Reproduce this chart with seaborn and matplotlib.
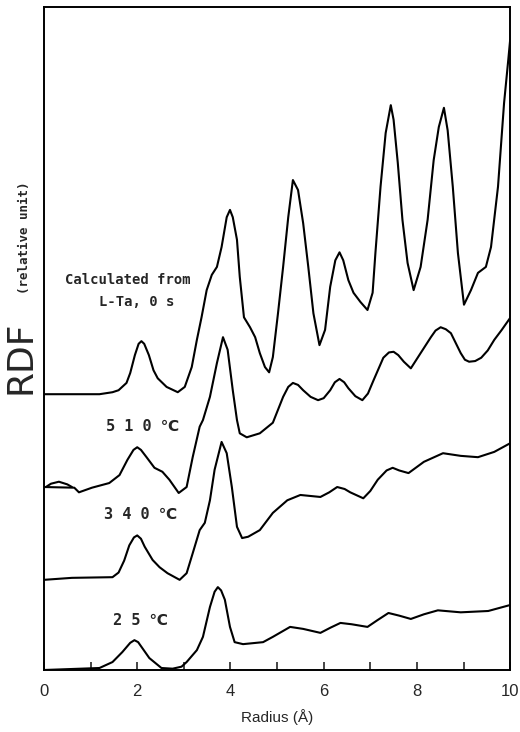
import matplotlib
matplotlib.use("Agg")
import matplotlib.pyplot as plt
import seaborn as sns
import pandas as pd
from matplotlib.ticker import MultipleLocator

sns.set_theme(style="ticks")
plt.rcParams['font.family'] = ['DejaVu Sans']

# ---- data (radius in Å, RDF in relative units, curves stacked with offsets) ----
calc_x = [0.0, 1.19, 1.47, 1.60, 1.77, 1.85, 1.95, 2.03, 2.09, 2.15, 2.25, 2.35, 2.44, 2.63,
          2.87, 3.02, 3.17, 3.28, 3.38, 3.49, 3.60, 3.71, 3.81, 3.92, 3.99, 4.05, 4.14, 4.20,
          4.29, 4.42, 4.53, 4.63, 4.74, 4.83, 4.91, 5.02, 5.13, 5.24, 5.34, 5.45, 5.56, 5.67,
          5.78, 5.91, 6.03, 6.14, 6.25, 6.34, 6.42, 6.53, 6.64, 6.79, 6.94, 7.05, 7.11, 7.22,
          7.33, 7.44, 7.50, 7.59, 7.69, 7.80, 7.93, 8.08, 8.23, 8.36, 8.47, 8.58, 8.66, 8.77,
          8.88, 9.01, 9.16, 9.31, 9.48, 9.59, 9.74, 9.87, 9.96, 10.0]
calc_y = [4.16, 4.16, 4.19, 4.22, 4.33, 4.48, 4.75, 4.92, 4.96, 4.92, 4.75, 4.52, 4.40, 4.27,
          4.19, 4.27, 4.57, 4.98, 5.32, 5.73, 5.96, 6.08, 6.38, 6.83, 6.94, 6.83, 6.49, 5.93,
          5.32, 5.17, 5.02, 4.78, 4.57, 4.49, 4.72, 5.38, 6.08, 6.83, 7.39, 7.24, 6.74, 6.08,
          5.38, 4.90, 5.13, 5.78, 6.18, 6.30, 6.18, 5.88, 5.69, 5.55, 5.43, 5.69, 6.29, 7.29,
          8.10, 8.52, 8.30, 7.65, 6.79, 6.14, 5.73, 6.08, 6.79, 7.69, 8.19, 8.48, 8.14, 7.29,
          6.29, 5.51, 5.73, 5.99, 6.08, 6.38, 7.29, 8.55, 9.20, 9.50]

t510_x = [0.0, 0.65, 0.75, 1.03, 1.40, 1.62, 1.79, 1.92, 2.00, 2.08, 2.20, 2.37, 2.54, 2.69,
          2.89, 3.06, 3.19, 3.34, 3.41, 3.56, 3.71, 3.84, 3.94, 4.05, 4.14, 4.20, 4.35, 4.63,
          4.91, 5.13, 5.24, 5.34, 5.45, 5.56, 5.72, 5.88, 6.00, 6.14, 6.24, 6.34, 6.44, 6.53,
          6.68, 6.83, 6.95, 7.07, 7.28, 7.40, 7.50, 7.60, 7.72, 7.87, 8.08, 8.30, 8.40, 8.51,
          8.62, 8.73, 8.94, 9.03, 9.12, 9.25, 9.38, 9.52, 9.66, 9.82, 10.0]
t510_y = [2.76, 2.75, 2.68, 2.75, 2.82, 2.94, 3.17, 3.32, 3.36, 3.32, 3.21, 3.05, 2.99, 2.87,
          2.67, 2.76, 3.21, 3.67, 3.77, 4.12, 4.63, 5.02, 4.83, 4.22, 3.77, 3.57, 3.51, 3.57,
          3.73, 4.12, 4.27, 4.33, 4.30, 4.22, 4.12, 4.07, 4.10, 4.22, 4.34, 4.39, 4.34, 4.25,
          4.13, 4.07, 4.17, 4.37, 4.71, 4.79, 4.80, 4.75, 4.65, 4.55, 4.78, 5.02, 5.12, 5.17,
          5.14, 5.08, 4.78, 4.68, 4.65, 4.66, 4.71, 4.82, 4.98, 5.13, 5.31]

# small closed bump at the start of the 510 ℃ trace
t510b_x = [0.04, 0.15, 0.32, 0.50, 0.60]
t510b_y = [2.76, 2.81, 2.84, 2.80, 2.76]

t340_x = [0.0, 0.60, 1.47, 1.60, 1.72, 1.83, 1.93, 2.00, 2.08, 2.16, 2.33, 2.48, 2.65, 2.91,
          3.06, 3.19, 3.34, 3.45, 3.56, 3.66, 3.81, 3.92, 4.03, 4.14, 4.25, 4.38, 4.63, 4.91,
          5.22, 5.50, 5.93, 6.12, 6.29, 6.45, 6.57, 6.85, 7.00, 7.16, 7.35, 7.48, 7.62, 7.82,
          8.15, 8.56, 8.94, 9.31, 9.66, 10.0]
t340_y = [1.36, 1.39, 1.40, 1.47, 1.65, 1.88, 2.00, 2.03, 1.98, 1.86, 1.66, 1.55, 1.46, 1.36,
          1.46, 1.76, 2.11, 2.22, 2.56, 3.02, 3.44, 3.27, 2.76, 2.16, 1.99, 2.01, 2.11, 2.37,
          2.56, 2.64, 2.61, 2.68, 2.76, 2.73, 2.68, 2.59, 2.70, 2.87, 3.01, 3.05, 3.01, 2.97,
          3.14, 3.27, 3.23, 3.21, 3.29, 3.42]

t25_x = [0.0, 1.19, 1.47, 1.68, 1.85, 1.94, 2.02, 2.11, 2.26, 2.52, 2.76, 2.95, 3.06, 3.28,
         3.41, 3.56, 3.66, 3.73, 3.80, 3.88, 3.99, 4.09, 4.27, 4.70, 4.91, 5.28, 5.56, 5.93,
         6.15, 6.36, 6.60, 6.94, 7.15, 7.39, 7.62, 7.87, 8.15, 8.45, 8.94, 9.53, 10.0]
t25_y = [0.00, 0.03, 0.12, 0.27, 0.41, 0.45, 0.42, 0.33, 0.18, 0.03, 0.02, 0.05, 0.12, 0.30,
         0.50, 0.95, 1.18, 1.25, 1.20, 1.06, 0.65, 0.42, 0.39, 0.42, 0.50, 0.65, 0.62, 0.56,
         0.64, 0.71, 0.69, 0.65, 0.75, 0.86, 0.82, 0.77, 0.84, 0.90, 0.87, 0.89, 0.98]

series_names = ["calc", "510", "510b", "340", "25"]
x_ticks = [0, 2, 4, 6, 8, 10]

frames = []
for name, xs, ys in [("calc", calc_x, calc_y), ("510", t510_x, t510_y),
                     ("510b", t510b_x, t510b_y), ("340", t340_x, t340_y),
                     ("25", t25_x, t25_y)]:
    frames.append(pd.DataFrame({"r": xs, "rdf": ys, "curve": name}))
df = pd.concat(frames, ignore_index=True)

fig = plt.figure(figsize=(5.2, 7.32), dpi=100)
ax = fig.add_axes([0.0846, 0.0847, 0.8964, 0.9057])

sns.lineplot(data=df, x="r", y="rdf", hue="curve", units="curve", estimator=None,
             sort=False, palette={n: "black" for n in series_names}, linewidth=1.5,
             legend=False, ax=ax)
for ln in ax.lines:
    ln.set_solid_joinstyle("round")
    ln.set_solid_capstyle("round")

ax.set_xlim(0, 10)
ax.set_ylim(0, 10)
ax.set_xticks(x_ticks)
ax.set_xticklabels([str(v) for v in x_ticks], fontsize=12, fontfamily="Liberation Sans")
ax.xaxis.set_minor_locator(MultipleLocator(1))
ax.tick_params(axis="x", which="both", direction="in", length=6, width=1.2, pad=10,
               top=False, bottom=True)
ax.set_yticks([])
ax.set_xlabel("Radius (Å)", fontsize=11, fontfamily="Liberation Sans", labelpad=7)
ax.set_ylabel("")
for s in ax.spines.values():
    s.set_visible(True)
    s.set_linewidth(1.4)
    s.set_color("black")

mono = ["DejaVu Sans Mono", "DejaVu Sans"]
ax.text(0.45, 5.88, "Calculated from", fontsize=10, fontweight="bold", family=mono,
        ha="left", va="center")
ax.text(1.19, 5.55, "L-Ta, 0 s", fontsize=10, fontweight="bold", family=mono,
        ha="left", va="center")
ax.text(2.11, 3.67, "5 1 0 ℃", fontsize=11, fontweight="bold", family=mono,
        ha="center", va="center")
ax.text(2.08, 2.34, "3 4 0 ℃", fontsize=11, fontweight="bold", family=mono,
        ha="center", va="center")
ax.text(2.06, 0.75, "2 5 ℃", fontsize=11, fontweight="bold", family=mono,
        ha="center", va="center")

fig.text(20 / 520, 1 - 357 / 732, "RDF", fontsize=26, rotation=90, ha="center",
         va="center", fontfamily="DejaVu Sans")
fig.text(25 / 520, 1 - 238 / 732, "(relative unit)", fontsize=9, fontweight="bold",
         rotation=90, ha="center", va="center", family=mono)

fig.savefig("out.png", dpi=100)
